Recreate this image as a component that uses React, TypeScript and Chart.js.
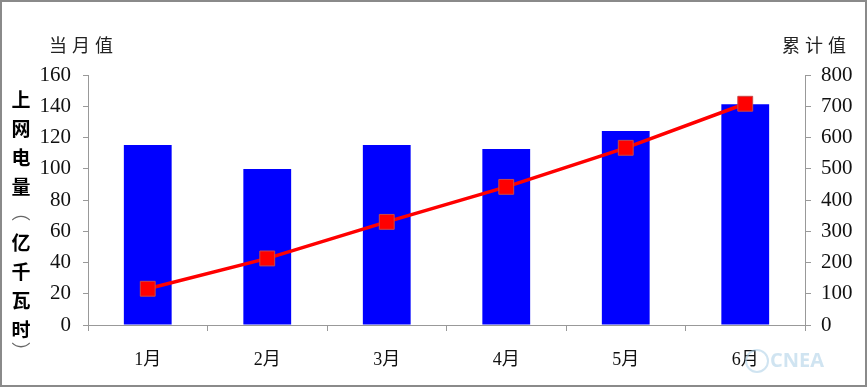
import React, { useEffect, useRef } from "react";
import { Chart, registerables } from "chart.js";

Chart.register(...registerables);

const categories = ["1月", "2月", "3月", "4月", "5月", "6月"];
const monthlyValues = [115.2, 99.8, 115.2, 112.6, 124.2, 141.3];
const cumulativeValues = [116, 213, 330, 442, 567, 708];
const leftTitle = ["当", "月", "值"];
const rightTitle = ["累", "计", "值"];
const verticalTitle = ["上", "网", "电", "量", "︵", "亿", "千", "瓦", "时", "︶"];

const serif = '"Liberation Serif", "Noto Sans CJK SC", serif';
const cjk = '"Noto Sans CJK SC", sans-serif';

const decorPlugin = {
  id: "decor",
  beforeDraw(chart: any) {
    const { ctx, width, height } = chart;
    ctx.save();
    ctx.fillStyle = "#ffffff";
    ctx.fillRect(0, 0, width, height);
    ctx.restore();
  },
  afterDraw(chart: any) {
    const { ctx, width, height } = chart;
    ctx.save();
    // frame
    ctx.strokeStyle = "#8a8a8a";
    ctx.lineWidth = 2;
    ctx.strokeRect(1, 1, width - 3, height - 2);
    // axis titles
    ctx.fillStyle = "#222";
    ctx.textAlign = "center";
    ctx.textBaseline = "middle";
    ctx.font = "18px " + cjk;
    const lx = [58, 81, 104];
    leftTitle.forEach((c, i) => ctx.fillText(c, lx[i], 45));
    const rx = [791, 814, 837];
    rightTitle.forEach((c, i) => ctx.fillText(c, rx[i], 45));
    // vertical title
    const ys = [100, 129, 158, 187, 212, 243, 272, 301, 330, 352];
    verticalTitle.forEach((c, i) => {
      if (c === "︵" || c === "︶") {
        ctx.font = "19px " + cjk;
        ctx.fillStyle = "#666";
      } else {
        ctx.font = "bold 19px " + cjk;
        ctx.fillStyle = "#000";
      }
      ctx.fillText(c, 21, ys[i]);
    });
    // watermark label
    ctx.font = "bold 20px " + '"Open Sans", sans-serif';
    ctx.fillStyle = "rgba(170,205,230,0.55)";
    ctx.textAlign = "left";
    ctx.fillText("CNEA", 770, 361);
    ctx.beginPath();
    ctx.arc(757, 361, 11, 0, Math.PI * 2);
    ctx.strokeStyle = "rgba(170,205,230,0.55)";
    ctx.lineWidth = 2;
    ctx.stroke();
    ctx.restore();
  },
};

export default function App() {
  const ref = useRef<HTMLCanvasElement>(null);
  useEffect(() => {
    document.body.style.margin = "0";
    const chart = new Chart(ref.current as HTMLCanvasElement, {
      type: "bar",
      data: {
        labels: categories,
        datasets: [
          {
            type: "line",
            label: "累计值",
            data: cumulativeValues,
            yAxisID: "y1",
            borderColor: "#ff0000",
            borderWidth: 3.5,
            backgroundColor: "#ff0000",
            pointStyle: "rect",
            pointRadius: 10.5,
            pointBorderColor: "#c84848",
            pointBorderWidth: 1,
            pointBackgroundColor: "#ff0000",
            tension: 0,
            order: 0,
          } as any,
          {
            type: "bar",
            label: "当月值",
            data: monthlyValues,
            yAxisID: "y",
            backgroundColor: "#0000ff",
            borderWidth: 0,
            categoryPercentage: 1,
            barPercentage: 0.4,
            order: 1,
          },
        ],
      },
      options: {
        animation: false,
        responsive: false,
        maintainAspectRatio: false,
        layout: { padding: { top: 75, left: 0, right: 0, bottom: 0 } },
        plugins: {
          legend: { display: false },
          tooltip: { enabled: false },
        },
        scales: {
          x: {
            offset: true,
            grid: {
              offset: true,
              drawOnChartArea: false,
              drawTicks: true,
              tickLength: 6,
              color: "#999",
            },
            border: { display: true, color: "#999", width: 1 },
            ticks: {
              color: "#111",
              font: { family: serif, size: 18 },
              padding: 18,
            },
            afterFit(scale: any) {
              scale.height = 62;
            },
          },
          y: {
            position: "left",
            min: 0,
            max: 160,
            ticks: {
              stepSize: 20,
              color: "#111",
              font: { family: serif, size: 21 },
              padding: 12,
            },
            grid: {
              drawOnChartArea: false,
              tickLength: 5,
              color: "#999",
            },
            border: { display: true, color: "#999", width: 1 },
            afterFit(scale: any) {
              scale.width = 88;
            },
          },
          y1: {
            position: "right",
            min: 0,
            max: 800,
            ticks: {
              stepSize: 100,
              color: "#111",
              font: { family: serif, size: 21 },
              padding: 10,
            },
            grid: {
              drawOnChartArea: false,
              tickLength: 6,
              color: "#999",
            },
            border: { display: true, color: "#999", width: 1 },
            afterFit(scale: any) {
              scale.width = 63;
            },
          },
        },
      },
      plugins: [decorPlugin],
    });
    return () => chart.destroy();
  }, []);
  return (
    <div style={{ width: 868, height: 387 }}>
      <canvas ref={ref} width={868} height={387} style={{ display: "block" }} />
    </div>
  );
}
